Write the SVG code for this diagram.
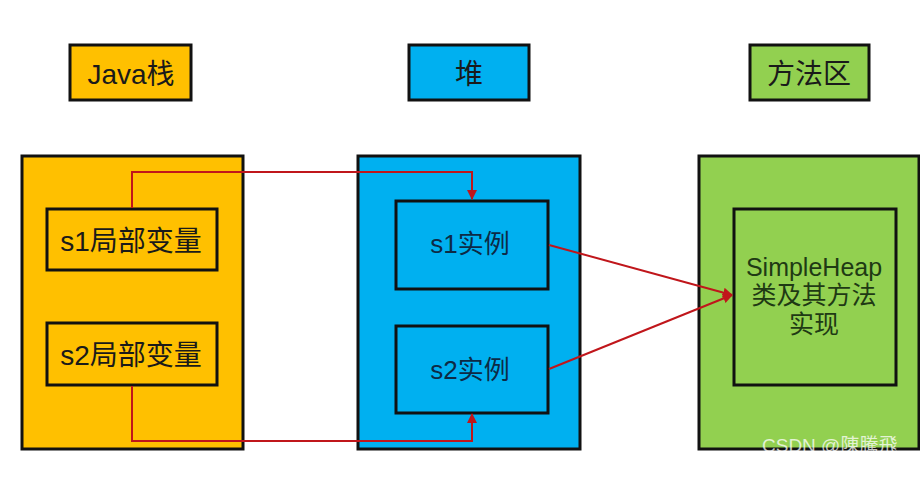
<svg xmlns="http://www.w3.org/2000/svg" width="920" height="501" viewBox="0 0 920 501">
<style>
.box{stroke:#111;stroke-width:3}
.o{fill:#FFC000}.b{fill:#00B0F0}.g{fill:#92D050}
.t{font-family:"Liberation Sans","Noto Sans CJK SC",sans-serif;font-size:28px;fill:#1a1a1a;text-anchor:middle}
.m{font-size:26px;fill:#0d2a45}
.k{font-size:25px;fill:#1f3a14}
.c{stroke:#C0161B;stroke-width:2;fill:none}
</style>
<defs>
<marker id="ah" viewBox="0 0 10 10" refX="9" refY="5" markerWidth="5" markerHeight="5" orient="auto-start-reverse">
<path d="M0,0 L10,5 L0,10 z" fill="#C0161B"/>
</marker>
</defs>
<rect width="920" height="501" fill="#fff"/>
<g id="hdr-stack"><rect class="box o" x="70" y="45" width="121" height="55"/><text class="t" x="131" y="84">Java栈</text></g>
<g id="hdr-heap"><rect class="box b" x="409" y="45" width="120" height="55"/><text class="t" x="469" y="84">堆</text></g>
<g id="hdr-method"><rect class="box g" x="750" y="45" width="119" height="55"/><text class="t" x="809" y="84">方法区</text></g>
<g id="stack"><rect class="box o" x="22" y="156" width="221" height="293"/></g>
<g id="heap"><rect class="box b" x="358" y="156" width="222" height="293"/></g>
<g id="method"><rect class="box g" x="699" y="156" width="220" height="293"/></g>
<g id="s1var"><rect class="box o" x="47" y="209" width="170" height="61"/><text class="t" x="131" y="251">s1局部变量</text></g>
<g id="s2var"><rect class="box o" x="47" y="323" width="170" height="62"/><text class="t" x="131" y="365">s2局部变量</text></g>
<g id="s1inst"><rect class="box b" x="396" y="201" width="152" height="88"/><text class="t m" x="470" y="253">s1实例</text></g>
<g id="s2inst"><rect class="box b" x="396" y="326" width="152" height="87"/><text class="t m" x="470" y="379">s2实例</text></g>
<g id="cls"><rect class="box g" x="734" y="209" width="162" height="176"/>
<text class="t k" x="814" y="276">SimpleHeap</text>
<text class="t k" x="814" y="304">类及其方法</text>
<text class="t k" x="814" y="333">实现</text></g>
<g id="connectors">
<path class="c" d="M132,208 V172 H472 V199" marker-end="url(#ah)"/>
<path class="c" d="M132,386 V441 H472 V414" marker-end="url(#ah)"/>
<path class="c" d="M549,245 L732,295" marker-end="url(#ah)"/>
<path class="c" d="M549,369 L732,295" marker-end="url(#ah)"/>
</g>
<text x="762" y="452" style="font-family:'Liberation Sans','Noto Sans CJK TC',sans-serif;font-size:19px;fill:#fff;fill-opacity:0.75">CSDN @陳騰飛</text>
</svg>
